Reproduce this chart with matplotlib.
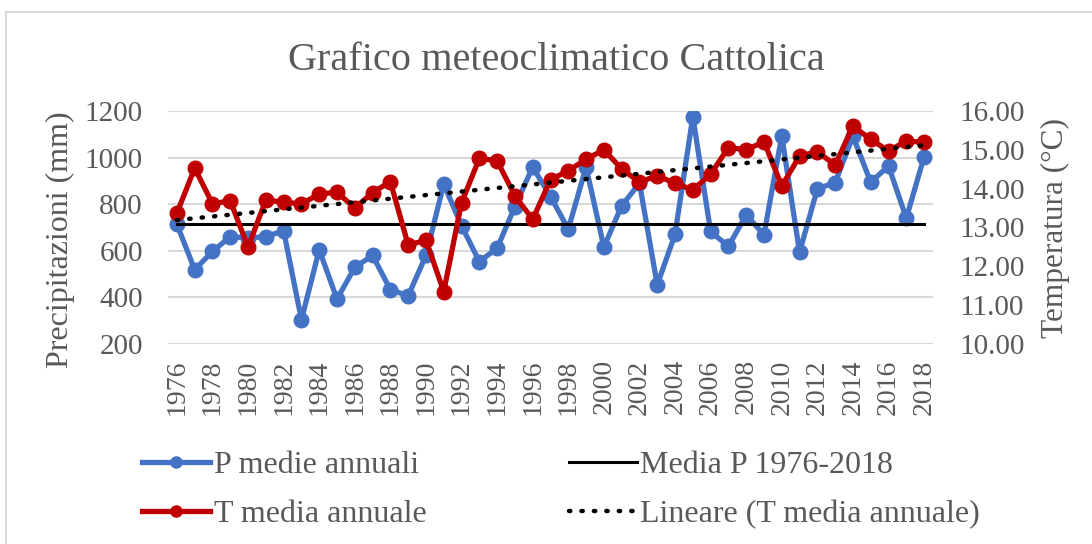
import numpy as np
import matplotlib
matplotlib.use('Agg')
import matplotlib.pyplot as plt
from matplotlib.lines import Line2D

# Data
anni = list(range(1976, 2019))
p_medie = [714, 519, 597, 661, 655, 661, 686, 304, 604, 393, 529, 580, 433, 407, 580, 887,
           707, 554, 611, 790, 959, 833, 693, 960, 616, 793, 890, 454, 671, 1176,
           683, 619, 754, 669, 1093, 594, 866, 893, 1092, 894, 964, 740, 1004]
t_media = [13.37, 14.53, 13.61, 13.69, 12.49, 13.71, 13.65, 13.61, 13.86, 13.91, 13.50, 13.90,
           14.18, 12.55, 12.67, 11.35, 13.64, 14.78, 14.72, 13.81, 13.21, 14.23, 14.46, 14.76,
           15.00, 14.51, 14.17, 14.33, 14.14, 13.97, 14.37, 15.06, 15.00, 15.21, 14.07, 14.84,
           14.95, 14.61, 15.61, 15.27, 14.97, 15.23, 15.19]

media_p = np.mean(p_medie)
coef = np.polyfit(anni, t_media, 1)
trend = np.polyval(coef, anni)

plt.rcParams['font.family'] = ['Liberation Serif', 'DejaVu Serif']
grey = '#595959'
blue = '#4472C4'
red = '#C00000'
dots = (0, (0.3, 2.5))

fig = plt.figure(figsize=(10.92, 5.44), dpi=100)
ax1 = fig.add_axes([168/1092, 1 - 344/544, 765/1092, 233/544])
ax2 = ax1.twinx()

# chart border (left and top visible)
fig.add_artist(Line2D([6/1092, 6/1092], [0, 1 - 12/544], color='#d9d9d9', lw=1.5))
fig.add_artist(Line2D([6/1092, 1], [1 - 12/544, 1 - 12/544], color='#d9d9d9', lw=1.5))

ax1.plot(anni, p_medie, color=blue, lw=3.8, marker='o', ms=10.5, zorder=3)
ax1.plot(anni, [media_p] * len(anni), color='black', lw=2.2, zorder=4)
ax2.plot(anni, t_media, color=red, lw=3.8, marker='o', ms=10.5, zorder=3)
ax2.plot(anni, trend, color='black', lw=3.2, linestyle=dots,
         dash_capstyle='round', zorder=4)

ax1.set_xlim(1975.5, 2018.5)
ax1.set_ylim(200, 1200)
ax2.set_ylim(10, 16)
ax1.set_yticks(range(200, 1201, 200))
ax2.set_yticks(range(10, 17))
ax2.set_yticklabels([f'{v:.2f}' for v in range(10, 17)])
ax1.set_xticks(anni[::2])
ax1.set_xticklabels([str(a) for a in anni[::2]], rotation=90)

ax1.grid(axis='y', color='#d9d9d9', lw=1.5)
ax1.set_axisbelow(True)
for ax in (ax1, ax2):
    for s in ax.spines.values():
        s.set_visible(False)
    ax.tick_params(length=0, labelsize=21, colors=grey)
ax1.tick_params(axis='x', labelsize=20, pad=11)
ax1.tick_params(axis='y', pad=18)
ax2.tick_params(axis='y', pad=19)

# axis titles and chart title
fig.text(60/1092, 1 - 240/544, 'Precipitazioni (mm)', fontsize=23, color=grey,
         rotation=90, ha='center', va='center')
fig.text(1055/1092, 1 - 228/544, 'Temperatura (°C)', fontsize=22.5, color=grey,
         rotation=90, ha='center', va='center')
fig.text(556/1092, 1 - 60/544, 'Grafico meteoclimatico Cattolica', fontsize=29,
         color=grey, ha='center', va='center')

handles = [
    Line2D([], [], color=blue, lw=3.8, marker='o', ms=8),
    Line2D([], [], color=red, lw=3.8, marker='o', ms=8),
    Line2D([], [], color='black', lw=2.2),
    Line2D([], [], color='black', lw=3.2, linestyle=dots, dash_capstyle='round'),
]
labels = ['P medie annuali', 'T media annuale', 'Media P 1976-2018',
          'Lineare (T media annuale)']
leg = fig.legend(handles, labels, ncol=2, loc='center left',
                 bbox_to_anchor=(113/1092, 1 - 490/544), frameon=False, fontsize=23,
                 handlelength=2.15, handletextpad=0.1, columnspacing=4.45,
                 labelspacing=0.62)
for t in leg.get_texts():
    t.set_color(grey)

fig.savefig('out.png', dpi=100)
